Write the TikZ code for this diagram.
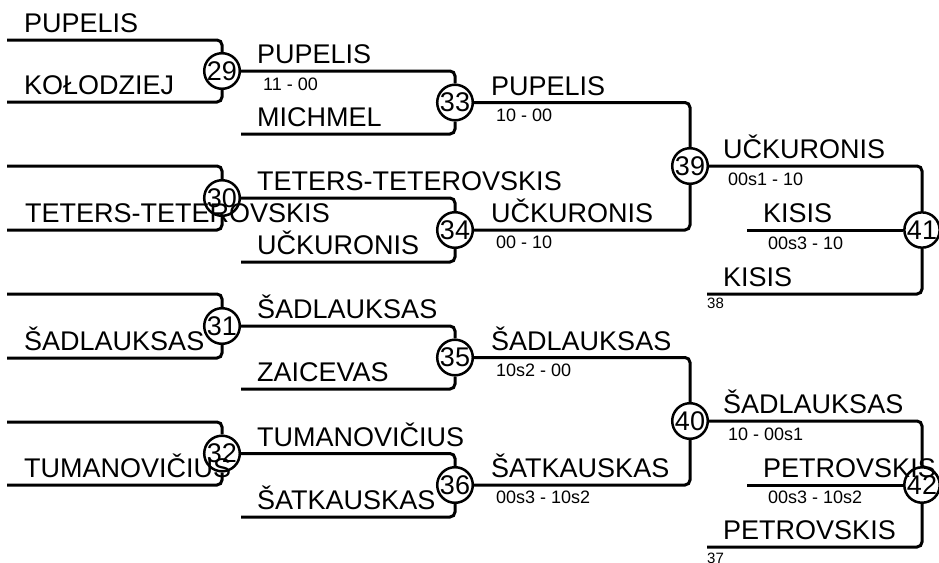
\documentclass[tikz,border=0pt]{standalone}
\usepackage{fontspec}
\setmainfont{Liberation Sans}
\begin{document}
\begin{tikzpicture}[x=1pt,y=-1pt,
  line/.style={line width=3pt, rounded corners=5pt},
  mcirc/.style={circle, draw, line width=2.5pt, fill=white, minimum size=35pt, inner sep=0pt, font=\fontsize{27}{27}\selectfont},
  pname/.style={anchor=base west, inner sep=0pt, font=\fontsize{27}{27}\selectfont},
  score/.style={anchor=base west, inner sep=0pt, font=\fontsize{18}{18}\selectfont},
  seed/.style={anchor=base west, inner sep=0pt, font=\fontsize{15}{15}\selectfont}]
\useasboundingbox (0,0) rectangle (939,562);

% match circles
\node[mcirc] (c29) at (222,71) {29};
\node[mcirc] (c30) at (222,198) {30};
\node[mcirc] (c31) at (222,326) {31};
\node[mcirc] (c32) at (222,453.5) {32};
\node[mcirc] (c33) at (455,102.5) {33};
\node[mcirc] (c34) at (455,230) {34};
\node[mcirc] (c35) at (455,357.5) {35};
\node[mcirc] (c36) at (455,485) {36};
\node[mcirc] (c39) at (690,166) {39};
\node[mcirc] (c40) at (690,421) {40};
\node[mcirc] (c41) at (922,230) {41};
\node[mcirc] (c42) at (922,485) {42};

% free line ends
\coordinate (a29) at (7,40);  \coordinate (b29) at (7,102);
\coordinate (a30) at (7,166); \coordinate (b30) at (7,230);
\coordinate (a31) at (7,294); \coordinate (b31) at (7,358);
\coordinate (a32) at (7,422); \coordinate (b32) at (7,485);
\coordinate (b33) at (241,134); \coordinate (b34) at (241,262);
\coordinate (b35) at (241,389); \coordinate (b36) at (241,517);
\coordinate (m41) at (747,230); \coordinate (b41) at (707,294);
\coordinate (m42) at (747,485); \coordinate (b42) at (707,547);

% round 1
\draw[line] (a29) -| (c29.north);
\draw[line] (b29) -| (c29.south);
\draw[line] (a30) -| (c30.north);
\draw[line] (b30) -| (c30.south);
\draw[line] (a31) -| (c31.north);
\draw[line] (b31) -| (c31.south);
\draw[line] (a32) -| (c32.north);
\draw[line] (b32) -| (c32.south);
% round 2
\draw[line] (c29.east) -| (c33.north);
\draw[line] (b33) -| (c33.south);
\draw[line] (c30.east) -| (c34.north);
\draw[line] (b34) -| (c34.south);
\draw[line] (c31.east) -| (c35.north);
\draw[line] (b35) -| (c35.south);
\draw[line] (c32.east) -| (c36.north);
\draw[line] (b36) -| (c36.south);
% round 3
\draw[line] (c33.east) -| (c39.north);
\draw[line] (c34.east) -| (c39.south);
\draw[line] (c35.east) -| (c40.north);
\draw[line] (c36.east) -| (c40.south);
% round 4
\draw[line] (c39.east) -| (c41.north);
\draw[line] (b41) -| (c41.south);
\draw[line] (m41) -- (c41.west);
\draw[line] (c40.east) -| (c42.north);
\draw[line] (b42) -| (c42.south);
\draw[line] (m42) -- (c42.west);

% names round 1
\node[pname] (n1) at (24,32.5) {PUPELIS};
\node[pname] (n2) at (24,94.5) {KOŁODZIEJ};
\node[pname] (n3) at (25,222.5) {TETERS-TETEROVSKIS};
\node[pname] (n4) at (24,350.5) {ŠADLAUKSAS};
\node[pname] (n5) at (24,477.5) {TUMANOVIČIUS};
% names round 2
\node[pname] (n6) at (257,63.5) {PUPELIS};
\node[score] (s6) at (263,90) {11 - 00};
\node[pname] (n7) at (257,126.5) {MICHMEL};
\node[pname] (n8) at (257,190) {TETERS-TETEROVSKIS};
\node[pname] (n9) at (257,254) {UČKURONIS};
\node[pname] (n10) at (257,318) {ŠADLAUKSAS};
\node[pname] (n11) at (257,381.5) {ZAICEVAS};
\node[pname] (n12) at (257,446) {TUMANOVIČIUS};
\node[pname] (n13) at (257,509) {ŠATKAUSKAS};
% names round 3
\node[pname] (n14) at (491,95) {PUPELIS};
\node[score] (s14) at (496,121.5) {10 - 00};
\node[pname] (n15) at (491,222.5) {UČKURONIS};
\node[score] (s15) at (496,248.5) {00 - 10};
\node[pname] (n16) at (491,350) {ŠADLAUKSAS};
\node[score] (s16) at (496,376.5) {10s2 - 00};
\node[pname] (n17) at (491,477.5) {ŠATKAUSKAS};
\node[score] (s17) at (496,503.5) {00s3 - 10s2};
% names round 4
\node[pname] (n18) at (723,158.5) {UČKURONIS};
\node[score] (s18) at (728,185) {00s1 - 10};
\node[pname] (n19) at (763,222.5) {KISIS};
\node[score] (s19) at (768,249) {00s3 - 10};
\node[pname] (n20) at (723,286.5) {KISIS};
\node[seed] (d20) at (707,308) {38};
\node[pname] (n21) at (723,413) {ŠADLAUKSAS};
\node[score] (s21) at (728,440) {10 - 00s1};
\node[pname] (n22) at (763,477) {PETROVSKIS};
\node[score] (s22) at (768,503.5) {00s3 - 10s2};
\node[pname] (n23) at (723,539) {PETROVSKIS};
\node[seed] (d23) at (707,563) {37};
\end{tikzpicture}
\end{document}
